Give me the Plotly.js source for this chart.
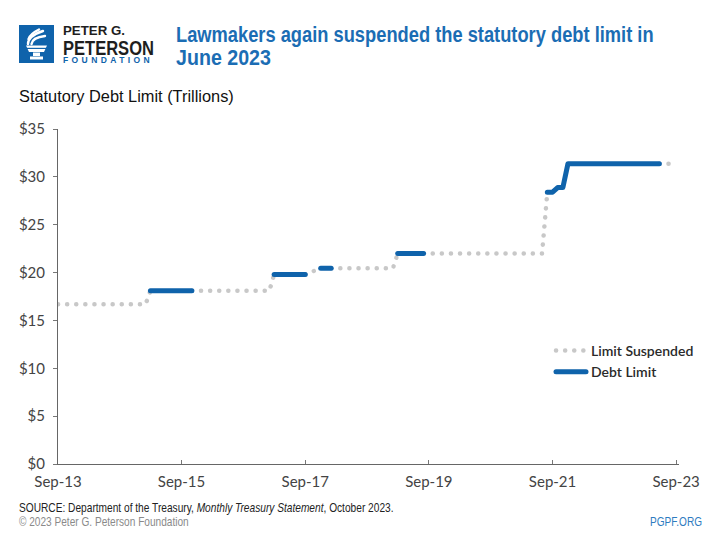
<!DOCTYPE html>
<html>
<head>
<meta charset="utf-8">
<script src="https://cdn.plot.ly/plotly-3.0.1.min.js"></script>
<style>
  html, body { margin: 0; padding: 0; background: #fff; }
  #chart { width: 720px; height: 540px; }
  #chart .js-line { stroke-linecap: round; stroke-linejoin: round; }
</style>
</head>
<body>
<div id="chart"></div>
<script>
// ---- Data ----
const suspendedDates = ['2013-09-01','2015-02-01','2015-03-01', null,
  '2015-11-01','2017-02-01','2017-03-01', null,
  '2017-09-01','2017-12-01', null,
  '2018-02-01','2019-02-01','2019-03-01', null,
  '2019-08-01','2021-07-01','2021-08-01', null,
  '2023-05-25','2023-09-01'];
const suspendedValues = [16.699, 16.699, 18.113, null,
  18.113, 18.113, 19.809, null,
  19.809, 20.456, null,
  20.456, 20.456, 21.988, null,
  21.988, 21.988, 28.401, null,
  31.381, 31.381];

const limitDates = ['2015-03-01','2015-11-01', null,
  '2017-03-01','2017-09-01', null,
  '2017-12-01','2018-02-01', null,
  '2019-03-01','2019-08-01', null,
  '2021-08-01','2021-09-01','2021-10-01','2021-11-01','2021-12-01','2023-05-25'];
const limitValues = [18.113, 18.113, null,
  19.809, 19.809, null,
  20.456, 20.456, null,
  21.988, 21.988, null,
  28.401, 28.401, 28.881, 28.881, 31.381, 31.381];

const xTickVals = ['2013-09-01','2015-09-01','2017-09-01','2019-09-01','2021-09-01','2023-09-01'];
const xTickText = ['Sep-13','Sep-15','Sep-17','Sep-19','Sep-21','Sep-23'];
const yTickVals = [0, 5, 10, 15, 20, 25, 30, 35];
const yTickText = ['$0','$5','$10','$15','$20','$25','$30','$35'];
const seriesNames = ['Limit Suspended', 'Debt Limit'];

// ---- Style ----
const BLUE = '#0f63ab';
const TITLE_BLUE = '#1b6db4';
const GRAY_DOT = '#c8c8c8';
const SANS = '"Liberation Sans", Arial, sans-serif';
const TICKFONT = 'Lato, "Open Sans", sans-serif';

// pixel -> paper helpers (plot area: x 58..679, y 129..464)
const L = 58, R = 679, T = 129, B = 464;
const px = x => (x - L) / (R - L);
const py = y => (B - y) / (B - T);

const traces = [
  {
    x: suspendedDates, y: suspendedValues, name: seriesNames[0],
    type: 'scatter', mode: 'lines', connectgaps: false,
    line: { color: GRAY_DOT, width: 4.5, dash: '0.1px,9px' },
    hoverinfo: 'skip'
  },
  {
    x: limitDates, y: limitValues, name: seriesNames[1],
    type: 'scatter', mode: 'lines', connectgaps: false,
    line: { color: BLUE, width: 5, dash: 'solid' },
    hoverinfo: 'skip'
  }
];

const torchSvg = "<svg xmlns='http://www.w3.org/2000/svg' viewBox='0 0 35 38'>" +
  "<rect width='35' height='38' fill='" + BLUE + "'/>" +
  "<g fill='none' stroke='#fff' stroke-linecap='round' stroke-width='2.4'>" +
  "<path d='M9 19 C9 13 15 9 24 6'/>" +
  "<path d='M12.5 19 C13 14.5 18 12 26 11'/>" +
  "<path d='M9.5 14 C11 9 16 6.5 20 4.5'/>" +
  "</g>" +
  "<polygon points='7,20.5 28,20.5 25,27 10,27' fill='#fff'/>" +
  "<rect x='7' y='22.8' width='21' height='1.2' fill='" + BLUE + "'/>" +
  "<rect x='14' y='27.5' width='7' height='3.5' fill='#fff'/>" +
  "<rect x='11' y='31.5' width='13' height='3' fill='#fff'/>" +
  "</svg>";

// annotation helper; fit = [target rendered width in px, mode] (condensed look)
const fits = [];
function note(text, xPix, yPix, font, anchor, fitWidth, mode) {
  fits.push([fitWidth || 0, mode || 'scale']);
  return { text: text, x: px(xPix), y: py(yPix), xref: 'paper', yref: 'paper',
    xanchor: anchor || 'left', yanchor: 'middle', align: anchor === 'right' ? 'right' : 'left',
    showarrow: false, borderpad: 0, font: font };
}

const annotations = [
  note('PETER G.', 62, 31.5, { family: SANS, size: 12.5, color: '#1e1e1e', weight: 'bold' }, 'left', 62),
  note('PETERSON', 62, 47.5, { family: SANS, size: 21, color: '#1e1e1e', weight: 'bold' }, 'left', 91),
  note('FOUNDATION', 62, 60, { family: SANS, size: 8.5, color: BLUE, weight: 'bold' }, 'left', 90, 'spacing'),
  note('Lawmakers again suspended the statutory debt limit in', 175, 34,
       { family: SANS, size: 22, color: TITLE_BLUE, weight: 'bold' }, 'left', 478),
  note('June 2023', 175, 58, { family: SANS, size: 22, color: TITLE_BLUE, weight: 'bold' }, 'left', 95),
  note('Statutory Debt Limit (Trillions)', 18, 97, { family: SANS, size: 17, color: '#111' }, 'left', 215),
  note('SOURCE: Department of the Treasury, <i>Monthly Treasury Statement</i>, October 2023.', 18, 508,
       { family: SANS, size: 12, color: '#222' }, 'left', 375),
  note('© 2023 Peter G. Peterson Foundation', 18, 522, { family: SANS, size: 12, color: '#8a8a8a' }, 'left', 170),
  note('PGPF.ORG', 703, 522, { family: SANS, size: 12, color: '#2d7bc0' }, 'right', 52)
];

const layout = {
  width: 720, height: 540,
  margin: { l: L, r: 720 - R, t: T, b: 540 - B, pad: 0 },
  paper_bgcolor: '#ffffff', plot_bgcolor: '#ffffff',
  showlegend: true,
  legend: {
    x: px(551), y: py(335), xanchor: 'left', yanchor: 'top',
    font: { family: TICKFONT, size: 14, color: '#2a2a2a', weight: 600 },
    bgcolor: 'rgba(0,0,0,0)', borderwidth: 0, itemwidth: 30, tracegroupgap: 0
  },
  xaxis: {
    type: 'date', range: ['2013-09-01', '2023-09-18'],
    tickmode: 'array', tickvals: xTickVals, ticktext: xTickText,
    ticks: 'inside', ticklen: 4, tickcolor: '#777', tickwidth: 1,
    ticklabelstandoff: 4,
    showline: true, linecolor: '#666', linewidth: 1,
    showgrid: false, zeroline: false,
    tickfont: { family: TICKFONT, size: 15, color: '#444' }
  },
  yaxis: {
    range: [0, 35], tickmode: 'array', tickvals: yTickVals, ticktext: yTickText,
    ticks: 'outside', ticklen: 4, tickcolor: '#777', tickwidth: 1,
    ticklabelstandoff: 5,
    showline: true, linecolor: '#666', linewidth: 1,
    showgrid: false, zeroline: false,
    tickfont: { family: TICKFONT, size: 15, color: '#444' }
  },
  images: [{
    source: 'data:image/svg+xml;charset=utf-8,' + encodeURIComponent(torchSvg),
    xref: 'paper', yref: 'paper', x: px(19), y: py(25),
    sizex: 35 / (R - L), sizey: 38 / (B - T),
    xanchor: 'left', yanchor: 'top', sizing: 'stretch', layer: 'above'
  }],
  annotations: annotations
};

Plotly.newPlot('chart', traces, layout, { staticPlot: true, displayModeBar: false }).then(function (gd) {
  // condensed typeface look of the reference: horizontally scale texts to their measured widths
  gd.querySelectorAll('.annotation').forEach(function (g) {
    const i = +g.getAttribute('data-index');
    const w = fits[i][0], mode = fits[i][1];
    const t = g.querySelector('text.annotation-text');
    if (!w || !t) return;
    const anchorRight = annotations[i].xanchor === 'right';
    let box = t.getBBox();
    if (mode === 'spacing') {
      const n = t.textContent.length;
      t.style.letterSpacing = ((w - box.width) / n).toFixed(2) + 'px';
      const nb = t.getBBox();
      const dx = anchorRight ? (box.x + box.width) - (nb.x + nb.width) : box.x - nb.x;
      if (dx) t.setAttribute('transform', 'translate(' + dx + ',0)');
    } else {
      const k = w / box.width;
      const pivot = anchorRight ? box.x + box.width : box.x;
      t.setAttribute('transform', 'matrix(' + k + ',0,0,1,' + (pivot * (1 - k)) + ',0)');
    }
    const bg = g.querySelector('rect.bg');
    if (bg) {
      const bx = parseFloat(bg.getAttribute('x')) || 0;
      const bw = parseFloat(bg.getAttribute('width')) || 0;
      bg.setAttribute('x', anchorRight ? bx + bw - w : bx);
      bg.setAttribute('width', w);
    }
  });
});
</script>
</body>
</html>
